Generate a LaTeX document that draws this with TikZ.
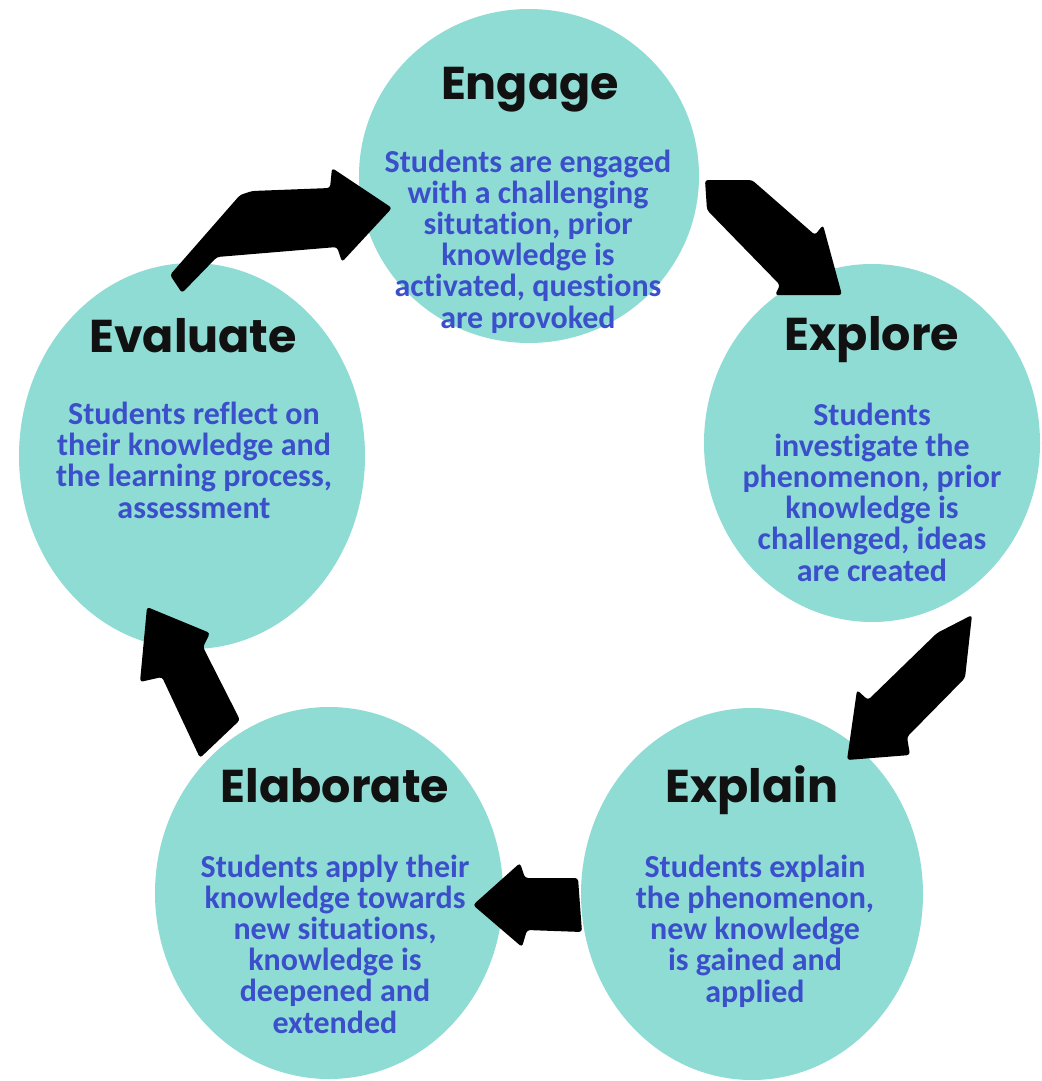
\documentclass[tikz,border=0pt]{standalone}
\usepackage{fontspec}
\setmainfont{Carlito}[Ligatures={NoCommon}]
\newfontfamily\titlefont{Poppins}
\usetikzlibrary{shapes.geometric}
\definecolor{phasefill}{HTML}{8FDCD5}
\definecolor{bodyblue}{HTML}{3B4FCB}
\definecolor{titleblack}{HTML}{111111}
\begin{document}
\begin{tikzpicture}[x=0.5pt,y=-0.5pt,
  phase/.style={ellipse, fill=phasefill, draw=none, inner sep=0pt},
  ttl/.style={font=\titlefont\bfseries\fontsize{23}{23}\selectfont, text=titleblack, anchor=base, inner sep=0pt},
  body/.style={font=\bfseries\fontsize{16}{15.6}\selectfont, text=bodyblue, align=center, anchor=base, inner sep=0pt},
  blockarrow/.style={fill=black, rounded corners=1.5pt}]
\useasboundingbox (0,0) rectangle (1042,1081);
\fill[white] (0,0) rectangle (1042,1081);
% phases
\node[phase, minimum width=170pt, minimum height=167pt] (engage) at (529,176) {};
\node[phase, minimum width=173pt, minimum height=193pt] (evaluate) at (192,456) {};
\node[phase, minimum width=168pt, minimum height=179pt] (explore) at (872,443) {};
\node[phase, minimum width=174pt, minimum height=186pt] (elaborate) at (329,893) {};
\node[phase, minimum width=171pt, minimum height=186pt] (explain) at (752,894) {};
% titles
\node[ttl] (engageT) at (530,100) {Engage};
\node[ttl] (evaluateT) at (193,352) {Evaluate};
\node[ttl] (exploreT) at (872,350) {Explore};
\node[ttl] (elaborateT) at (335,802) {Elaborate};
\node[ttl] (explainT) at (752,802) {Explain};
% bodies (base anchor = last line)
\node[body] (engageB) at (528,328) {Students are engaged\\with a challenging\\situtation, prior\\knowledge is\\activated, questions\\are provoked};
\node[body] (evaluateB) at (194,518) {Students reflect on\\their knowledge and\\the learning process,\\assessment};
\node[body] (exploreB) at (872,581) {Students\\investigate the\\phenomenon, prior\\knowledge is\\challenged, ideas\\are created};
\node[body] (elaborateB) at (335,1033) {Students apply their\\knowledge towards\\new situations,\\knowledge is\\deepened and\\extended};
\node[body] (explainB) at (755,1002) {Students explain\\the phenomenon,\\new knowledge\\is gained and\\applied};
% arrows
\fill[blockarrow] (170,275) -- (240,195) -- (252,191) -- (330,188) -- (332,168) -- (392,208) -- (342,262) -- (337,247) -- (217,257) -- (182,293) -- cycle;
\fill[blockarrow] (705,180) -- (752,180) -- (815,235) -- (823,225) -- (842,295) -- (775,295) -- (780,285) -- (707,210) -- cycle;
\fill[blockarrow] (972,615) -- (965,678) -- (907,737) -- (910,755) -- (847,760) -- (857,690) -- (868,700) -- (937,633) -- cycle;
\fill[blockarrow] (473,905) -- (520,863) -- (525,878) -- (578,878) -- (582,932) -- (527,930) -- (522,947) -- cycle;
\fill[blockarrow] (147,607) -- (210,633) -- (203,647) -- (240,720) -- (200,758) -- (162,677) -- (140,682) -- cycle;
\end{tikzpicture}
\end{document}
